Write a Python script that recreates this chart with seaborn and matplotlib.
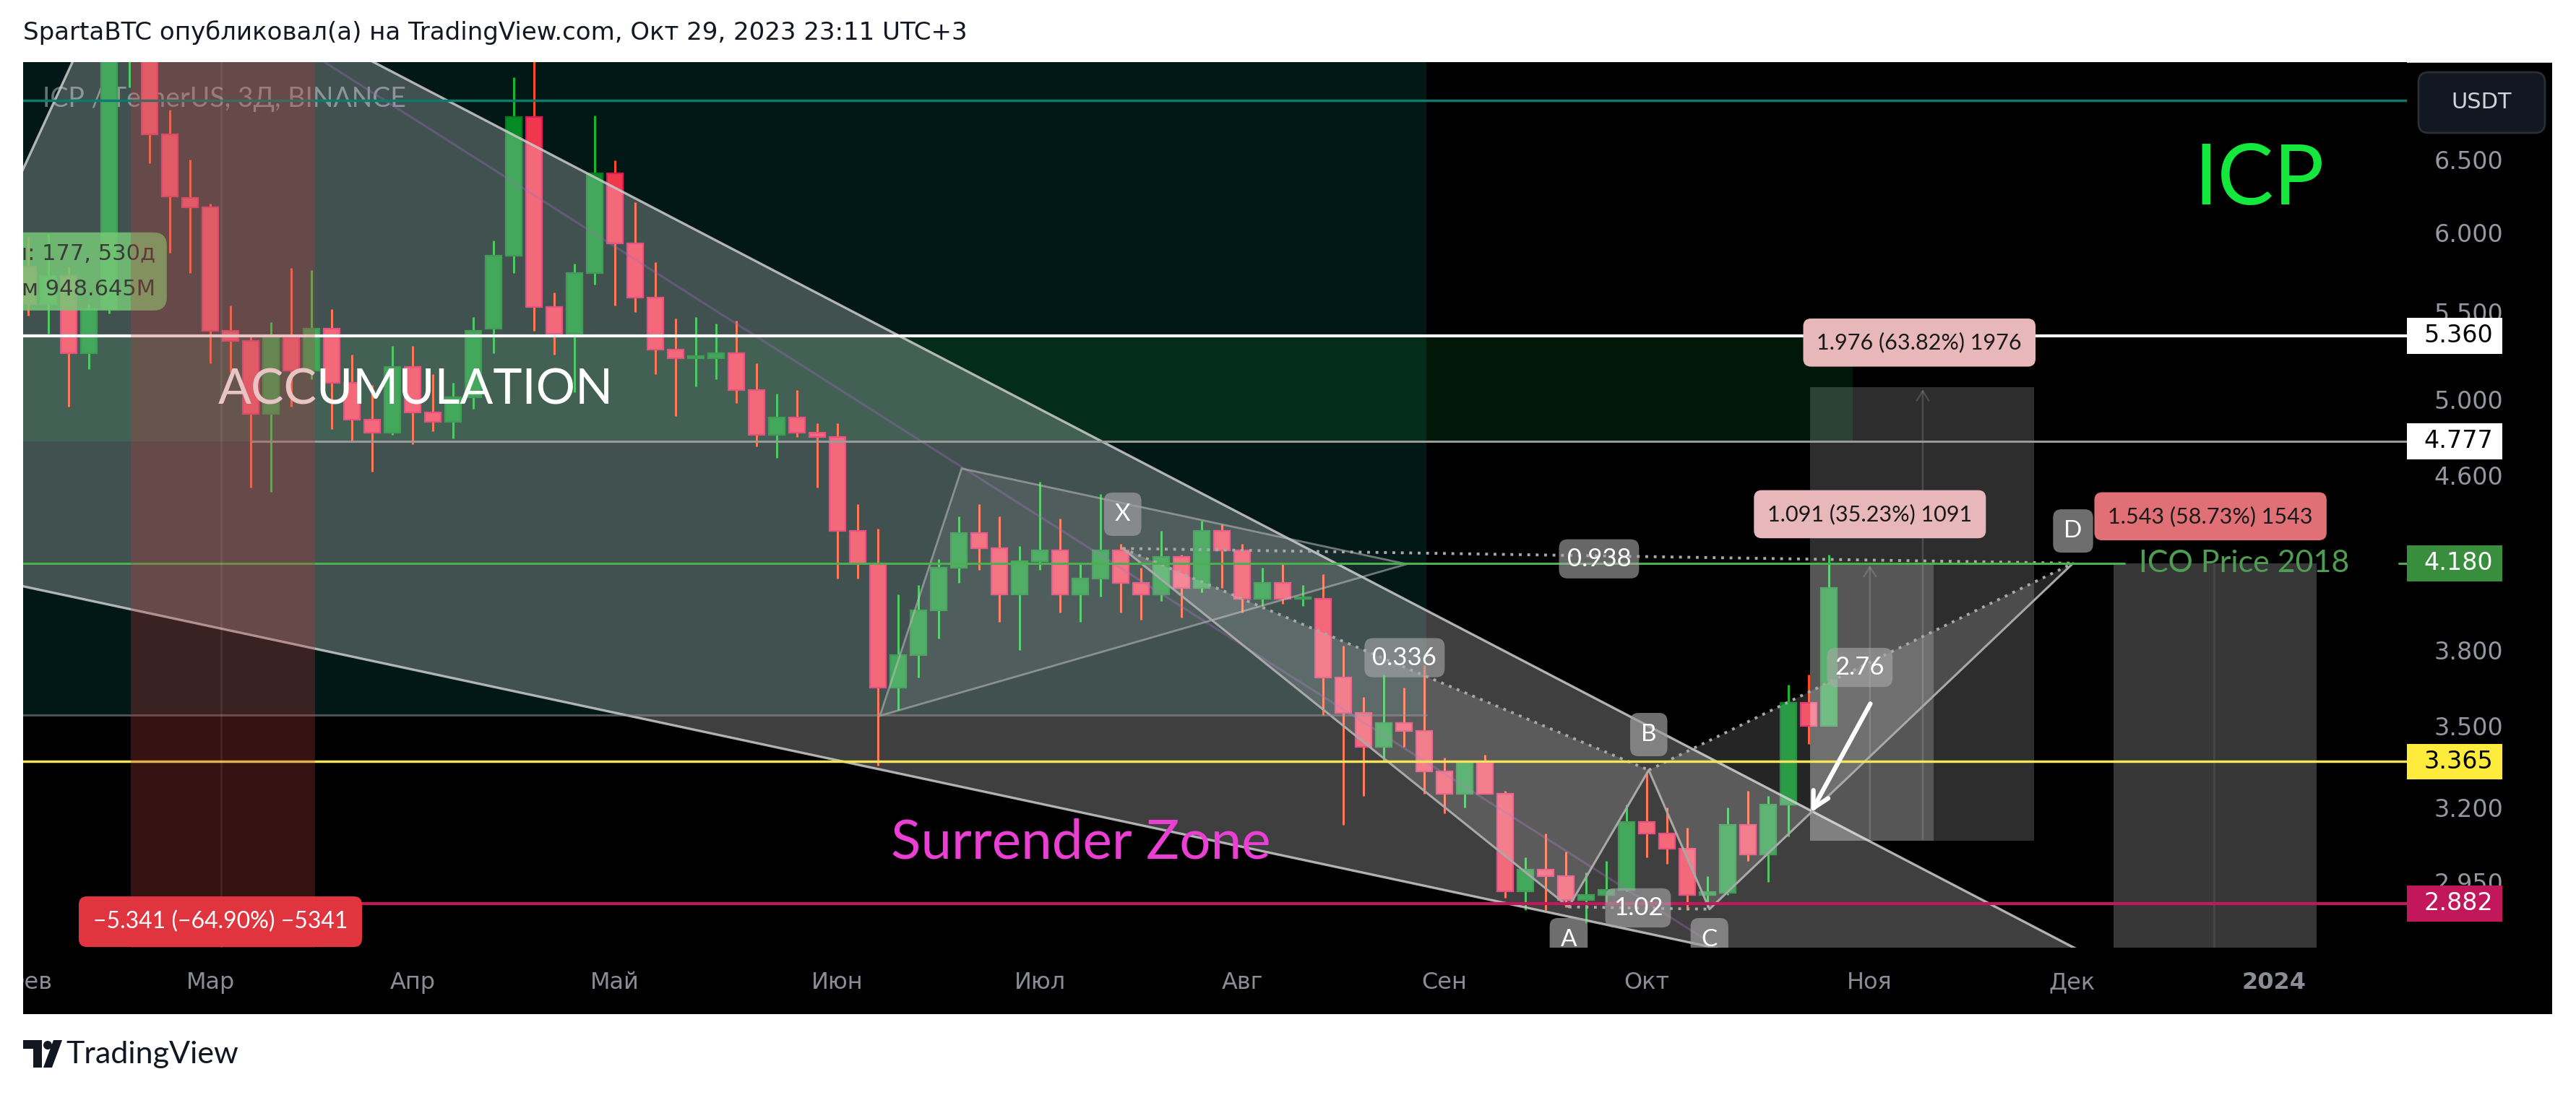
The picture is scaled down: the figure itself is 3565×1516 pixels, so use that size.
import numpy as np
import pandas as pd
import matplotlib
matplotlib.use("Agg")
import matplotlib.pyplot as plt
import matplotlib.dates as mdates
from matplotlib.patches import Polygon, Rectangle, FancyBboxPatch, Circle
from matplotlib.transforms import IdentityTransform
from matplotlib.ticker import NullLocator
import seaborn as sns

sns.set_theme(style="dark", rc={"axes.facecolor": "black", "figure.facecolor": "white"})
plt.rcParams["font.family"] = ["DejaVu Sans"]

# ------------------------------------------------------
# Data: ICP / USDT, 3-day candles (Binance)
# ------------------------------------------------------
candle_dates = pd.date_range("2023-02-03", periods=90, freq="3D")
opens = [5.78, 5.55, 5.72, 5.26, 5.52, 7.45, 7.62, 6.68, 6.23, 6.17,
         5.39, 5.33, 4.92, 5.35, 5.16, 5.40, 5.09, 4.89, 4.82, 5.18,
         4.93, 4.88, 5.01, 5.40, 5.85, 6.81, 5.53, 5.37, 5.74, 6.40,
         5.93, 5.59, 5.28, 5.23, 5.23, 5.26, 5.05, 4.81, 4.90, 4.82,
         4.80, 4.33, 4.18, 3.65, 3.78, 3.97, 4.16, 4.32, 4.25, 4.04,
         4.19, 4.24, 4.04, 4.11, 4.24, 4.09, 4.04, 4.21, 4.07, 4.33,
         4.24, 4.02, 4.09, 4.02, 4.02, 3.69, 3.55, 3.42, 3.51, 3.48,
         3.33, 3.25, 3.36, 3.25, 2.92, 2.99, 2.97, 2.894, 2.91, 2.925,
         3.15, 3.11, 3.06, 2.91, 2.915, 3.14, 3.04, 3.21, 3.59, 3.50]
highs = [5.97, 5.99, 5.78, 5.55, 7.70, 7.90, 7.75, 6.86, 6.50, 6.19,
         5.54, 5.36, 5.44, 5.77, 5.76, 5.52, 5.25, 5.08, 5.30, 5.30,
         5.14, 5.09, 5.47, 5.95, 7.11, 7.35, 5.62, 5.80, 6.82, 6.49,
         6.20, 5.81, 5.46, 5.47, 5.43, 5.45, 5.20, 5.03, 5.05, 4.87,
         4.87, 4.46, 4.34, 4.04, 4.08, 4.20, 4.40, 4.46, 4.40, 4.26,
         4.57, 4.39, 4.18, 4.51, 4.27, 4.16, 4.33, 4.22, 4.38, 4.36,
         4.27, 4.16, 4.18, 4.08, 4.13, 3.82, 3.61, 3.70, 3.65, 3.74,
         3.38, 3.37, 3.39, 3.26, 3.03, 3.11, 3.05, 2.98, 3.02, 3.21,
         3.33, 3.20, 3.13, 2.97, 3.20, 3.26, 3.24, 3.66, 3.70, 4.22]
lows = [5.48, 5.37, 4.96, 5.17, 5.49, 7.03, 6.47, 5.87, 5.74, 5.20,
        5.15, 4.54, 4.52, 4.96, 5.11, 4.84, 4.78, 4.62, 4.81, 4.76,
        4.83, 4.79, 4.95, 5.26, 5.74, 5.39, 5.25, 5.04, 5.67, 5.54,
        5.50, 5.14, 4.91, 5.07, 5.11, 4.98, 4.75, 4.69, 4.80, 4.54,
        4.11, 4.11, 3.35, 3.56, 3.69, 3.85, 4.09, 4.15, 3.92, 3.80,
        4.15, 3.96, 3.92, 4.03, 3.96, 3.93, 4.01, 3.94, 4.05, 4.07,
        3.96, 3.99, 4.00, 3.99, 3.54, 3.14, 3.24, 3.37, 3.42, 3.25,
        3.18, 3.20, 3.25, 2.90, 2.86, 2.86, 2.87, 2.82, 2.88, 2.92,
        3.03, 3.01, 2.86, 2.87, 2.91, 3.02, 2.95, 3.10, 3.43, 3.50]
closes = [5.55, 5.72, 5.26, 5.52, 7.45, 7.62, 6.68, 6.24, 6.17, 5.39,
          5.33, 4.92, 5.35, 5.16, 5.40, 5.09, 4.89, 4.82, 5.18, 4.93,
          4.88, 5.01, 5.39, 5.85, 6.81, 5.53, 5.37, 5.74, 6.40, 5.93,
          5.59, 5.28, 5.23, 5.24, 5.26, 5.05, 4.81, 4.90, 4.82, 4.80,
          4.33, 4.18, 3.65, 3.78, 3.97, 4.16, 4.32, 4.25, 4.04, 4.19,
          4.24, 4.04, 4.11, 4.24, 4.09, 4.04, 4.21, 4.07, 4.33, 4.24,
          4.02, 4.09, 4.02, 4.025, 3.69, 3.55, 3.42, 3.51, 3.48, 3.33,
          3.25, 3.36, 3.25, 2.92, 2.99, 2.97, 2.894, 2.91, 2.925, 3.15,
          3.11, 3.06, 2.91, 2.915, 3.14, 3.04, 3.21, 3.59, 3.50, 4.07]

# price axis / time axis
price_ticks = [6.5, 6.0, 5.5, 5.0, 4.6, 3.8, 3.5, 3.2, 2.95]
month_ticks = ["2023-02-03", "2023-03-02", "2023-04-01", "2023-05-01", "2023-06-03",
               "2023-07-03", "2023-08-02", "2023-09-01", "2023-10-01", "2023-11-03",
               "2023-12-03", "2024-01-02"]
month_labels = ["Фев", "Мар", "Апр", "Май", "Июн", "Июл", "Авг", "Сен", "Окт",
                "Ноя", "Дек", "2024"]

# horizontal levels
level_teal = 6.93
level_white = 5.36
level_grey = 4.777
level_ico = 4.18
level_yellow = 3.365
level_red = 2.882
level_zone = 3.54

# axis price tags: (price, background, text colour)
price_tags = [(5.36, "white", "black"), (4.777, "white", "black"),
              (4.18, "#388e3c", "white"), (3.365, "#ffeb3b", "black"),
              (2.882, "#c2185b", "white")]

# harmonic XABCD pattern
pattern_names = ["X", "A", "B", "C", "D"]
pattern_dates = ["2023-07-15 07:00", "2023-09-19 10:00", "2023-10-01 07:00",
                 "2023-10-10 07:00", "2023-12-03 05:00"]
pattern_prices = [4.248, 2.871, 3.334, 2.864, 4.18]
pattern_label_prices = [4.41, 2.77, 3.466, 2.77, 4.33]
ratio_texts = ["0.336", "0.938", "1.02", "2.76"]
ratio_dates = ["2023-08-26 02:00", "2023-09-23 22:00", "2023-09-29 17:00", "2023-11-01 14:00"]
ratio_prices = [3.77, 4.20, 2.868, 3.73]

# falling wedge & other drawings
wedge_dates = ["2023-01-07 07:00", "2023-02-18 05:00", "2023-12-21 12:00", "2023-11-24 05:00"]
wedge_prices = [4.246, 8.30, 2.561, 2.561]
tri_dates = ["2023-06-09 07:00", "2023-06-21 10:00", "2023-08-26 10:00"]
tri_prices = [3.538, 4.636, 4.176]


def dn(s):
    return mdates.date2num(pd.Timestamp(s))


# ------------------------------------------------------
# Figure layout (pixel based, 3566 x 1516)
# ------------------------------------------------------
W, H = 3566, 1516
fig = plt.figure(figsize=(W / 100, H / 100), dpi=100)

ax_bg = fig.add_axes([32 / W, 1 - 1404 / H, 3500 / W, (1404 - 86.4) / H])
ax_bg.set_facecolor("black")
ax_bg.set_xticks([])
ax_bg.set_yticks([])
for s in ax_bg.spines.values():
    s.set_visible(False)
ax_bg.axhline(1.0, color="#c8c8c8", lw=1.5)
ax_bg.set_zorder(0)

ax = fig.add_axes([32 / W, 1 - 1312 / H, (3331 - 32) / W, (1312 - 86.4) / H])
ax.set_zorder(1)
ax.set_facecolor("black")
for s in ax.spines.values():
    s.set_visible(False)
ax.set_yscale("log")
ax.set_xlim(dn("2023-02-02 06:00"), dn("2024-01-21 17:00"))
ax.set_ylim(2.746, 7.226)
ax.grid(False)

# ------------------------------------------------------
# Background zones
# ------------------------------------------------------
ax.fill_between([dn("2023-01-20"), dn("2023-08-29 07:00")], level_zone, 9,
                color="#021816", lw=0, zorder=0.5)
ax.fill_between([dn("2023-01-20"), dn("2023-10-31 12:00")], level_grey, level_white,
                color=(10 / 255, 125 / 255, 50 / 255), alpha=0.2, lw=0, zorder=0.6)

# ------------------------------------------------------
# Candles
# ------------------------------------------------------
x = mdates.date2num(candle_dates.to_pydatetime())
o = np.array(opens)
c = np.array(closes)
up = c >= o
body_lo = np.minimum(o, c)
body_h = np.maximum(np.abs(c - o), 0.008)
ax.vlines(x, lows, highs, colors=np.where(up, "#12b830", "#ff4a22"), linewidth=2.2, zorder=2)
ax.bar(x, body_h, width=2.36, bottom=body_lo, color=np.where(up, "#058b25", "#f0384d"),
       edgecolor=np.where(up, "#047a20", "#e0185a"), linewidth=1.6, zorder=2.1)

# ------------------------------------------------------
# Drawings
# ------------------------------------------------------
wedge = Polygon(list(zip([dn(d) for d in wedge_dates], wedge_prices)), closed=True,
                fc=(1, 1, 1, 0.25), ec=(0.8, 0.8, 0.8, 0.85), lw=2.4, zorder=3)
ax.add_patch(wedge)

ax.plot([dn("2023-03-10 12:00"), dn("2023-10-13")], [7.52, 2.728],
        color=(0.62, 0.42, 0.72, 0.35), lw=2.2, zorder=3.05)

tri = Polygon(list(zip([dn(d) for d in tri_dates], tri_prices)), closed=True,
              fc=(1, 1, 1, 0.08), ec=(0.75, 0.75, 0.75, 0.55), lw=2, zorder=3.1)
ax.add_patch(tri)

# long-position style boxes on the right
ax.add_patch(Rectangle((dn("2023-10-25 05:00"), 3.086),
                       dn("2023-11-27 10:00") - dn("2023-10-25 05:00"), 5.066 - 3.086,
                       fc=(1, 1, 1, 0.18), lw=0, zorder=3))
ax.add_patch(Rectangle((dn("2023-10-25 05:00"), 3.086),
                       dn("2023-11-12 12:00") - dn("2023-10-25 05:00"), level_ico - 3.086,
                       fc=(1, 1, 1, 0.2), lw=0, zorder=3.01))
ax.add_patch(Rectangle((dn("2023-12-09 05:00"), 2.6),
                       dn("2024-01-08 07:00") - dn("2023-12-09 05:00"), level_ico - 2.6,
                       fc=(1, 1, 1, 0.22), lw=0, zorder=3))
ax.plot([dn("2023-12-24 02:00")] * 2, [2.6, level_ico], color=(1, 1, 1, 0.08), lw=2, zorder=3.02)
for d, top in [("2023-11-03 02:00", level_ico), ("2023-11-10 22:00", 5.066)]:
    ax.annotate("", xy=(dn(d), top), xytext=(dn(d), 3.086),
                arrowprops=dict(arrowstyle="->,head_length=0.8,head_width=0.5",
                                color=(1, 1, 1, 0.15), lw=1.8), zorder=3.02)

# XABCD pattern
px = [dn(d) for d in pattern_dates]
pp = pattern_prices
ax.add_patch(Polygon([(px[0], pp[0]), (px[1], pp[1]), (px[2], pp[2])],
                     fc=(1, 1, 1, 0.15), lw=0, zorder=3.2))
ax.add_patch(Polygon([(px[2], pp[2]), (px[3], pp[3]), (px[4], pp[4])],
                     fc=(1, 1, 1, 0.15), lw=0, zorder=3.2))
sns.lineplot(x=px, y=pp, ax=ax, color="#a8a8a8", lw=2.2, zorder=3.3, sort=False)
for i, j in [(0, 2), (1, 3), (2, 4), (0, 4)]:
    ax.plot([px[i], px[j]], [pp[i], pp[j]], color="#a8a8a8", lw=2.8,
            ls=(0, (1, 2)), zorder=3.3)

# ------------------------------------------------------
# Horizontal levels
# ------------------------------------------------------
ax.axhline(level_teal, color="#0d7a70", lw=2.5, zorder=4)
ax.axhline(level_white, color="white", lw=3, zorder=4)
ax.plot([dn("2023-03-08 05:00"), dn("2024-02-01")], [level_grey] * 2, color="#9a9a9a", lw=2.2, zorder=4)
ax.plot([dn("2023-01-20"), dn("2023-08-29 07:00")], [level_zone] * 2, color=(0.6, 0.6, 0.6, 0.55),
        lw=2, zorder=4)
ax.plot([dn("2023-01-20"), dn("2023-12-10 20:00")], [level_ico] * 2, color="#4caf50", lw=2.2, zorder=4)
ax.plot([dn("2024-01-20 12:00"), dn("2024-02-01")], [level_ico] * 2, color="#4caf50", lw=2.2, zorder=4)
ax.axhline(level_yellow, color="#f5e35a", lw=2.5, zorder=4)
ax.plot([dn("2023-02-23"), dn("2024-02-01")], [level_red] * 2, color="#c2185b", lw=3, zorder=4)

# big white arrow
ax.annotate("", xy=(dn("2023-10-25 05:00"), 3.178), xytext=(dn("2023-11-03 07:00"), 3.592),
            arrowprops=dict(arrowstyle="->,head_length=1.3,head_width=0.7",
                            color="white", lw=4.5), zorder=7)

# red highlight band
ax.axvspan(dn("2023-02-18 05:00"), dn("2023-03-17 12:00"),
           color=(185 / 255, 60 / 255, 60 / 255), alpha=0.3, lw=0, zorder=6)
ax.axvline(dn("2023-03-03 14:00"), color=(1, 1, 1, 0.08), lw=2, zorder=6.1)

# ------------------------------------------------------
# Texts
# ------------------------------------------------------
lato = ["Lato", "DejaVu Sans"]
ax.text(0.0082, 0.959, "ICP / TetherUS, 3Д, BINANCE", transform=ax.transAxes,
        fontsize=27, color=(0.8, 0.8, 0.84, 0.5), family=lato, ha="left", va="center", zorder=1)
ax.text(dn("2023-04-01 10:00"), 5.05, "ACCUMULATION", fontsize=49, color="white",
        family=lato, ha="center", va="center", zorder=5)
ax.text(dn("2023-07-09 02:00"), 3.08, "Surrender Zone", fontsize=55, color="#e93fd3",
        family=lato, ha="center", va="center", zorder=5)
ax.text(dn("2023-12-30 20:00"), 6.35, "ICP", fontsize=84, color="#14e83c",
        family=lato, ha="center", va="center", zorder=5)
ax.text(dn("2023-12-28 14:00"), level_ico, "ICO Price 2018", fontsize=31, color="#4f9d54",
        family=lato, ha="center", va="center", zorder=5)

# range info box (cut by the left edge)
ax.text(dn("2023-02-21 22:00"), 5.75, "Бары: 177, 530д\nОбъём 948.645M", fontsize=22,
        color="#3b3b3b", ha="right", va="center", multialignment="right", linespacing=1.85,
        zorder=5, clip_on=True,
        bbox=dict(boxstyle="round,pad=0.5,rounding_size=0.6", fc="#76c776", ec="none", alpha=0.85))


def tag(xd, yp, s, fc, tc, fs, pad, alpha=1.0, z=8, clip=False):
    ax.text(dn(xd), yp, s, ha="center", va="center", fontsize=fs, color=tc, family=lato,
            zorder=z, clip_on=clip,
            bbox=dict(boxstyle=f"round,pad={pad},rounding_size=0.35", fc=fc, ec="none", alpha=alpha))


tag("2023-11-10 10:00", 5.32, "1.976 (63.82%) 1976", "#e8b7ba", "#1a1a1a", 22, 0.62)
tag("2023-11-03 02:00", 4.41, "1.091 (35.23%) 1091", "#e8b7ba", "#1a1a1a", 22, 0.62)
tag("2023-12-23 14:00", 4.40, "1.543 (58.73%) 1543", "#e07076", "#1a1a1a", 22, 0.62)
tag("2023-03-03 12:00", 2.825, "\u22125.341 (\u221264.90%) \u22125341", "#e0353f", "white", 23, 0.62,
    clip=True)

for name, d, lp in zip(pattern_names, pattern_dates, pattern_label_prices):
    tag(d, lp, name, (0.62, 0.62, 0.62), "white", 24, 0.45, alpha=0.7, clip=True)
for s, d, p in zip(ratio_texts, ratio_dates, ratio_prices):
    tag(d, p, s, (0.66, 0.66, 0.66), "white", 25, 0.32, alpha=0.62, clip=True)

# ------------------------------------------------------
# Axes ticks
# ------------------------------------------------------
ax.yaxis.tick_right()
ax.yaxis.set_minor_locator(NullLocator())
ax.set_yticks(price_ticks, labels=[f"{v:.3f}" for v in price_ticks])
ax.tick_params(axis="y", which="both", length=0, pad=27, labelsize=24, labelcolor="#9598a1",
               right=True, left=False, labelright=True, labelleft=False)
ax.set_xticks([dn(t) for t in month_ticks], labels=month_labels)
ax.tick_params(axis="x", length=0, pad=24, labelsize=23, labelcolor="#8a8d96")
xl = ax.get_xticklabels()
xl[-1].set_fontweight("bold")
for lbl in xl:
    lbl.set_clip_on(True)
    lbl.set_clip_box(ax_bg.bbox)

ytr = ax.get_yaxis_transform()
for p, bg, tc in price_tags:
    lo, hi = p * np.exp(-0.0197), p * np.exp(0.0197)
    ax.add_patch(Rectangle((1.0, lo), 0.04, hi - lo, transform=ytr, fc=bg, ec="none",
                           clip_on=False, zorder=9))
    ax.text(1.0215, p, f"{p:.3f}", transform=ytr, ha="center", va="center", fontsize=24,
            color=tc, zorder=10, clip_on=False)

# currency button
fig.add_artist(FancyBboxPatch((3347, H - 184), 175, 84, boxstyle="round,pad=0,rounding_size=14",
                              fc="#131722", ec="#2a2e39", lw=2, transform=IdentityTransform()))
fig.text(3434.5 / W, 1 - 142 / H, "USDT", ha="center", va="center", fontsize=22, color="#d1d4dc")

# ------------------------------------------------------
# Header / footer
# ------------------------------------------------------
fig.text(32 / W, 1 - 45.5 / H, "SpartaBTC опубликовал(а) на TradingView.com, Окт 29, 2023 23:11 UTC+3",
         ha="left", va="center", fontsize=24.5, color="#131722")
logo = "#131722"
fig.add_artist(Rectangle((32, H - 1452), 26, 12, fc=logo, ec="none", transform=IdentityTransform()))
fig.add_artist(Rectangle((46, H - 1478), 12, 38, fc=logo, ec="none", transform=IdentityTransform()))
fig.add_artist(Circle((66, H - 1447), 6, fc=logo, ec="none", transform=IdentityTransform()))
fig.add_artist(Polygon([(74, H - 1440), (86, H - 1440), (72, H - 1478), (60, H - 1478)],
                       fc=logo, ec="none", transform=IdentityTransform()))
fig.text(91 / W, 1 - 1460 / H, "TradingView", ha="left", va="center", fontsize=31,
         color=logo, family=lato)

fig.savefig("out.png", dpi=100, facecolor="white")
